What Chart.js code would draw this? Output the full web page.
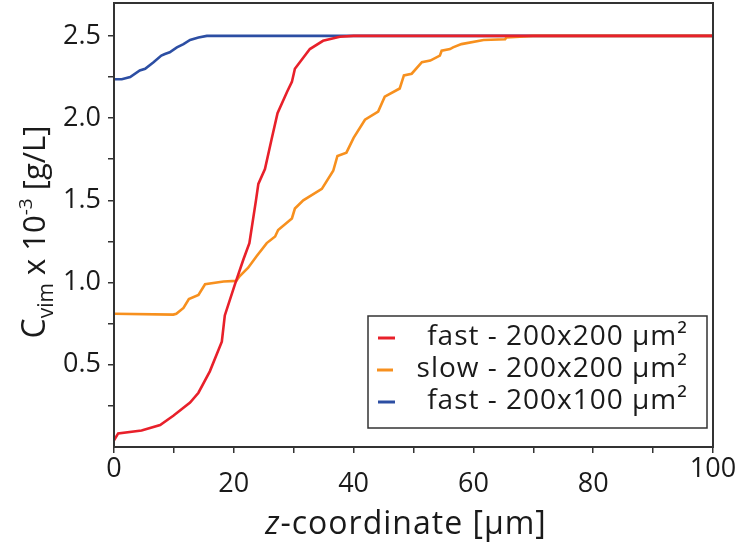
<!DOCTYPE html>
<html>
<head>
<meta charset="utf-8">
<script src="https://cdn.jsdelivr.net/npm/chart.js@4"></script>
<style>
  html, body { margin: 0; padding: 0; background: #fff; }
  #wrap { width: 752px; height: 545px; }
</style>
</head>
<body>
<div id="wrap"><canvas id="vimChart"></canvas></div>
<script>
// --- data ---
const seriesLabels = ['fast - 200x200 μm²', 'slow - 200x200 μm²', 'fast - 200x100 μm²'];
const seriesColors = ['#e8202a', '#f7901e', '#2c4ea3'];

const zFast = [0, 0.7, 4.6, 7.7, 9.9, 12.7, 14.1, 16.0, 18.0, 18.5, 20.2, 21.6, 22.6, 23.7, 24.1, 25.2, 26.3, 27.3, 28.9, 29.7, 30.2, 32.7, 34.9, 37.7, 40, 100];
const cFast = [0.04, 0.083, 0.10, 0.134, 0.19, 0.27, 0.33, 0.46, 0.64, 0.80, 0.99, 1.14, 1.24, 1.50, 1.60, 1.69, 1.87, 2.03, 2.16, 2.22, 2.30, 2.42, 2.47, 2.495, 2.5, 2.5];

const zSlow = [0, 9.9, 10.4, 11.6, 12.5, 14.1, 15.2, 18.3, 20.4, 21.0, 22.4, 23.8, 25.5, 26.9, 27.4, 29.7, 30.2, 31.6, 34.7, 36.6, 37.3, 38.8, 40.0, 41.9, 44.1, 45.2, 47.7, 48.4, 49.7, 51.4, 52.8, 54.4, 54.7, 56.1, 56.6, 58.0, 61.7, 65.3, 65.5, 70, 100];
const cSlow = [0.81, 0.805, 0.81, 0.846, 0.90, 0.925, 0.99, 1.006, 1.01, 1.04, 1.09, 1.16, 1.24, 1.28, 1.32, 1.39, 1.45, 1.50, 1.57, 1.68, 1.77, 1.79, 1.88, 1.99, 2.04, 2.13, 2.18, 2.26, 2.27, 2.34, 2.35, 2.38, 2.41, 2.42, 2.43, 2.45, 2.475, 2.48, 2.49, 2.5, 2.5];

const zNarrow = [0, 1.3, 2.7, 4.3, 5.2, 6.6, 7.9, 8.5, 9.3, 10.5, 11.6, 12.7, 14.1, 15.5, 100];
const cNarrow = [2.236, 2.236, 2.25, 2.29, 2.30, 2.34, 2.38, 2.39, 2.40, 2.43, 2.45, 2.475, 2.49, 2.50, 2.5];

const xTickValues = [0, 10, 20, 30, 40, 50, 60, 70, 80, 90, 100];
const xTickLabels = ['0', '', '20', '', '40', '', '60', '', '80', '', '100'];
const yTickValues = [0.25, 0.5, 0.75, 1.0, 1.25, 1.5, 1.75, 2.0, 2.25, 2.5];
const yTickLabels = ['', '0.5', '', '1.0', '', '1.5', '', '2.0', '', '2.5'];

const FONT = "'Open Sans', 'DejaVu Sans', sans-serif";
const INK = '#1a1a1a';

const toPoints = (xs, ys) => xs.map((x, i) => ({ x: x, y: ys[i] }));

// frame, staggered x labels, axis titles and legend box
const decorPlugin = {
    id: 'decor',
    afterDraw(chart) {
        const ctx = chart.ctx;
        const area = chart.chartArea;
        const xs = chart.scales.x;
        ctx.save();

        // plot frame
        ctx.strokeStyle = '#333';
        ctx.lineWidth = 2;
        ctx.strokeRect(area.left, area.top, area.right - area.left, area.bottom - area.top);

        // x tick labels (ends sit a little higher)
        ctx.fillStyle = INK;
        ctx.font = '27px ' + FONT;
        ctx.textAlign = 'center';
        ctx.textBaseline = 'middle';
        xTickValues.forEach((v, i) => {
            if (!xTickLabels[i]) return;
            const px = xs.getPixelForValue(v);
            const high = (i === 0 || i === xTickValues.length - 1);
            ctx.fillText(xTickLabels[i], px, high ? 469 : 484);
        });

        // x title: "z-coordinate [μm]" with italic z
        ctx.textBaseline = 'alphabetic';
        ctx.textAlign = 'left';
        ctx.letterSpacing = '1px';
        const xParts = [
            { t: 'z', f: 'italic 32px ' + FONT },
            { t: '-coordinate [μm]', f: '32px ' + FONT }
        ];
        let total = 0;
        xParts.forEach(p => { ctx.font = p.f; p.w = ctx.measureText(p.t).width; total += p.w; });
        let cx = 406 - total / 2;
        xParts.forEach(p => { ctx.font = p.f; ctx.fillText(p.t, cx, 534); cx += p.w; });
        ctx.letterSpacing = '0px';

        // y title: C_vim x 10^-3 [g/L], rotated
        const yParts = [
            { t: 'C', f: '32px ' + FONT, dy: 0 },
            { t: 'vim', f: '21px ' + FONT, dy: 8 },
            { t: ' x 10', f: '31px ' + FONT, dy: 0 },
            { t: '-3', f: '19px ' + FONT, dy: -13 },
            { t: ' [g/L]', f: '31px ' + FONT, dy: 0 }
        ];
        total = 0;
        yParts.forEach(p => { ctx.font = p.f; p.w = ctx.measureText(p.t).width; total += p.w; });
        ctx.translate(45, 232);
        ctx.rotate(-Math.PI / 2);
        let ty = -total / 2;
        yParts.forEach(p => { ctx.font = p.f; ctx.fillText(p.t, ty, p.dy); ty += p.w; });
        ctx.setTransform(1, 0, 0, 1, 0, 0);

        // legend box
        const box = { l: 368, t: 316, r: 707, b: 428 };
        ctx.fillStyle = '#fff';
        ctx.fillRect(box.l, box.t, box.r - box.l, box.b - box.t);
        ctx.strokeStyle = '#333';
        ctx.lineWidth = 1.5;
        ctx.strokeRect(box.l, box.t, box.r - box.l, box.b - box.t);
        ctx.font = '28px ' + FONT;
        ctx.letterSpacing = '1px';
        ctx.textAlign = 'right';
        ctx.textBaseline = 'middle';
        chart.data.datasets.forEach((ds, i) => {
            const rowY = 337 + i * 32;
            ctx.strokeStyle = ds.borderColor;
            ctx.lineWidth = 3;
            ctx.beginPath();
            ctx.moveTo(i === 1 ? 377 : 378, rowY + 1);
            ctx.lineTo(i === 1 ? 393 : 395, rowY + 1);
            ctx.stroke();
            ctx.fillStyle = INK;
            ctx.fillText(ds.label, 688, rowY);
        });
        ctx.restore();
    }
};

const ctxVim = document.getElementById('vimChart').getContext('2d');
new Chart(ctxVim, {
    type: 'line',
    data: {
        datasets: [
            { label: seriesLabels[0], data: toPoints(zFast, cFast), borderColor: seriesColors[0] },
            { label: seriesLabels[1], data: toPoints(zSlow, cSlow), borderColor: seriesColors[1] },
            { label: seriesLabels[2], data: toPoints(zNarrow, cNarrow), borderColor: seriesColors[2] }
        ].map(ds => Object.assign(ds, { borderWidth: 2.6, pointRadius: 0, tension: 0, fill: false }))
    },
    options: {
        responsive: true,
        maintainAspectRatio: false,
        animation: false,
        layout: { padding: { top: 3, right: 39, left: 0, bottom: 0 } },
        plugins: {
            legend: { display: false },
            tooltip: { enabled: false }
        },
        scales: {
            x: {
                type: 'linear',
                min: 0,
                max: 100,
                afterBuildTicks: scale => { scale.ticks = xTickValues.map(v => ({ value: v })); },
                afterFit: scale => { scale.height = 98; scale.paddingLeft = 0; scale.paddingRight = 0; },
                ticks: { callback: () => '', padding: 0 },
                grid: { drawOnChartArea: false, drawTicks: true, tickLength: 6, color: '#333', lineWidth: 1.5 },
                border: { display: true, color: '#333', width: 2 }
            },
            y: {
                min: 0,
                max: 2.7,
                afterBuildTicks: scale => { scale.ticks = yTickValues.map(v => ({ value: v })); },
                afterFit: scale => { scale.width = 114; scale.paddingTop = 0; scale.paddingBottom = 0; },
                ticks: {
                    color: INK,
                    font: { family: FONT, size: 27 },
                    padding: 7,
                    callback: (value, index) => yTickLabels[index]
                },
                grid: { drawOnChartArea: false, drawTicks: true, tickLength: 6, color: '#333', lineWidth: 1.5 },
                border: { display: true, color: '#333', width: 2 }
            }
        }
    },
    plugins: [decorPlugin]
});
</script>
</body>
</html>
